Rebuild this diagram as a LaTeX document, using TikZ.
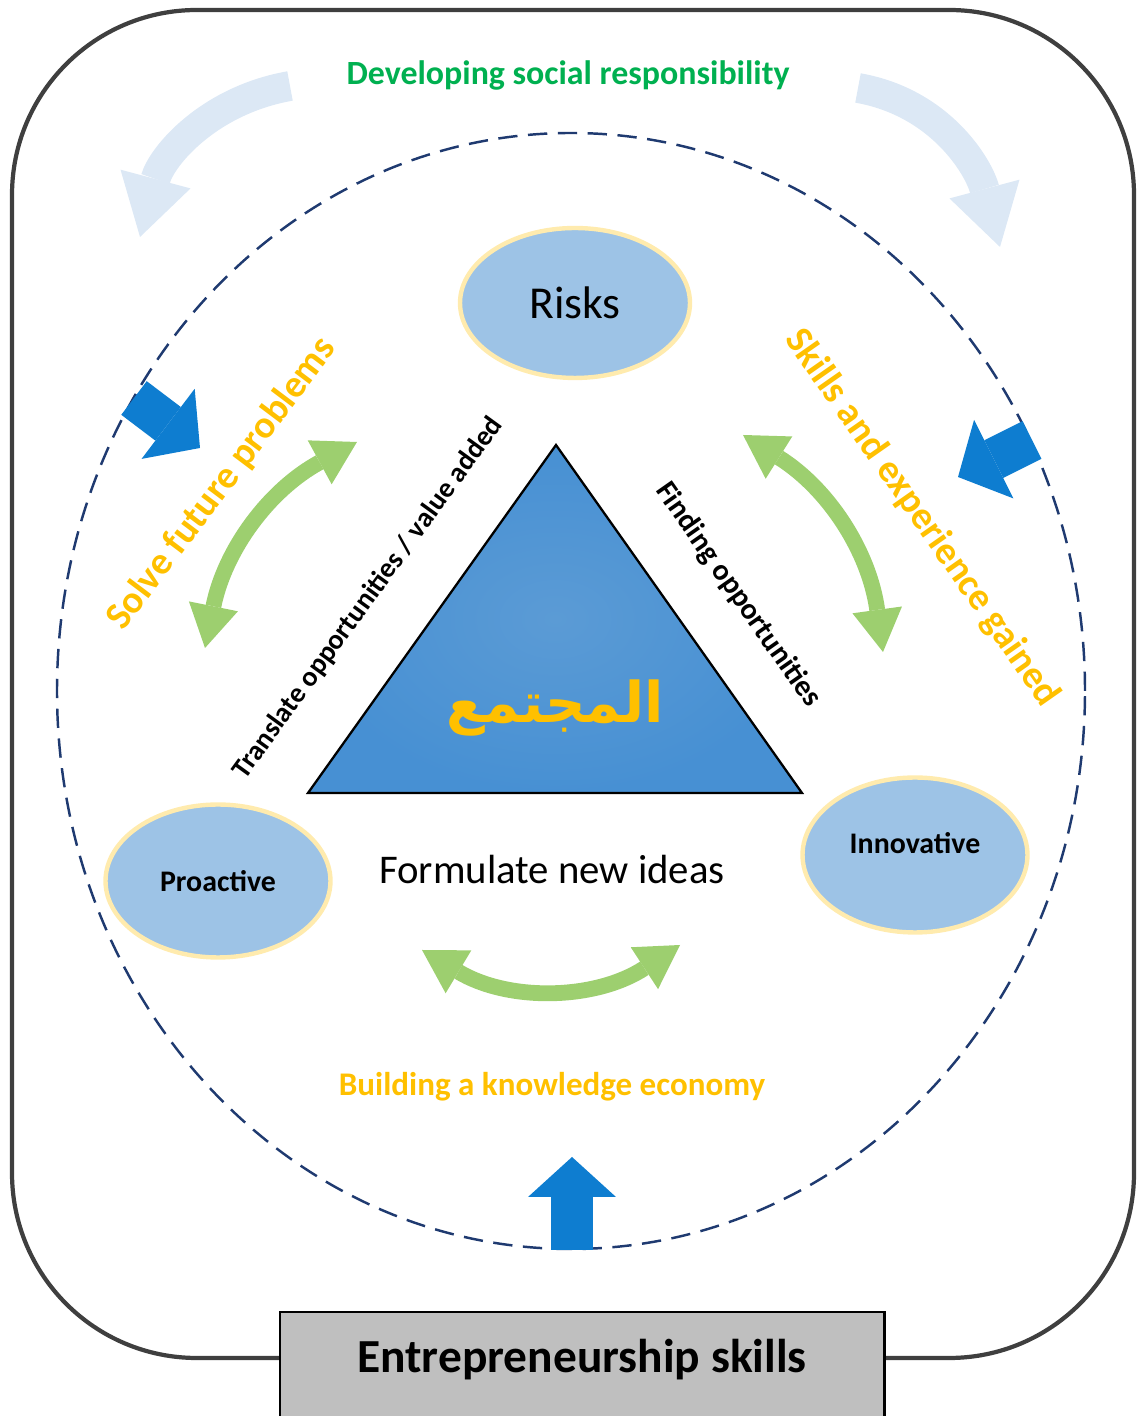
\documentclass[tikz,border=0pt]{standalone}
\usepackage{fontspec}
\setmainfont{Carlito}
\newfontfamily\arabicfont[Script=Arabic]{DejaVu Sans}
\TeXXeTstate=1
\usetikzlibrary{arrows.meta,shapes.geometric}

\definecolor{framegray}{HTML}{3F3F3F}
\definecolor{navy}{HTML}{1F3A70}
\definecolor{bubblefill}{HTML}{9DC3E6}
\definecolor{bubbleedge}{HTML}{FFEBAE}
\definecolor{trifill}{HTML}{5B9BD5}
\definecolor{triedge}{HTML}{4790D3}
\definecolor{gold}{HTML}{FFC000}
\definecolor{leaf}{HTML}{00B050}
\definecolor{lightgreen}{HTML}{9DCF6F}
\definecolor{paleblue}{HTML}{DCE8F5}
\definecolor{deepblue}{HTML}{0E7DD0}
\definecolor{boxgray}{HTML}{BFBFBF}

\newcommand{\fsz}[1]{\fontsize{#1}{#1}\selectfont}

\tikzset{
  ring/.style={draw=navy, line width=1.4pt, dash pattern=on 11pt off 6pt},
  bubble/.style={ellipse, fill=bubblefill, draw=bubbleedge, line width=2.5pt, inner sep=0pt},
  side/.style={font=\bfseries\fsz{16pt}},
  gain/.style={font=\bfseries\fsz{22pt}, text=gold},
  skillbox/.style={draw=black, line width=1.2pt, fill=boxgray, minimum width=12.1cm,
    inner ysep=0pt, text height=1.22cm, text depth=1.1cm, font=\bfseries\fsz{27pt}},
  cycarrow/.style={draw=lightgreen, line width=9pt,
    {Triangle[width=1cm,length=0.85cm,line width=0pt]}-{Triangle[width=1cm,length=0.85cm,line width=0pt]}},
  palearrow/.style={draw=paleblue, line width=17pt, -{Triangle[width=1.45cm,length=1.2cm,line width=0pt]}},
  pusharrow/.style={draw=deepblue, line width=24pt, -{Triangle[width=1.76cm,length=0.8cm,line width=0pt]}},
}

\begin{document}
\begin{tikzpicture}[x=0.02cm, y=0.02cm]
\clip (0,0) rectangle (1138,1416);

%% outer frame and base box
\draw[framegray, line width=2.4pt, rounded corners=3.7cm] (12,58) rectangle (1134,1406);
\node[skillbox, anchor=base] (skills) at (582,43) {Entrepreneurship skills};

%% dashed ring
\draw[ring] (571,725) ellipse [x radius=514, y radius=558];

%% pale arrows at the top
\coordinate (pl0) at (290,1330);
\coordinate (pl1) at (140,1179);
\coordinate (pr0) at (858,1328);
\coordinate (pr1) at (1000,1169);
\draw[palearrow] (pl0) to[out=190, in=75] (pl1);
\draw[palearrow] (pr0) to[out=-10, in=105] (pr1);

%% push arrows on the ring
\coordinate (bl0) at (134,1018);
\coordinate (bl1) at (200,968);
\coordinate (br0) at (1032,976);
\coordinate (br1) at (958,939);
\coordinate (bb0) at (572,166);
\coordinate (bb1) at (572,259);
\draw[pusharrow] (bl0) -- (bl1);
\draw[pusharrow] (br0) -- (br1);
\draw[pusharrow] (bb0) -- (bb1);

%% bubbles
\node[bubble, minimum width=4.6cm, minimum height=3cm, font=\fsz{26pt}] (risks) at (575,1113) {Risks};
\node[bubble, minimum width=4.5cm, minimum height=3.06cm, font=\bfseries\fsz{17pt}] (proactive) at (218,535) {Proactive};
\node[bubble, minimum width=4.5cm, minimum height=3.1cm,
  label={[font=\bfseries\fsz{17pt}, yshift=0.24cm]center:Innovative}] (innovative) at (915,561) {};

%% triangle
\coordinate (apex) at (556,971);
\coordinate (left) at (308,623);
\coordinate (right) at (802,623);
\draw[shading=radial, inner color=trifill, outer color=triedge, line width=1.3pt]
  (apex) -- (left) -- (right) -- cycle;
\node[font=\arabicfont\bfseries\fsz{32pt}, text=gold] (society) at (555,708) {\beginR المجتمع\endR};

%% side labels
\node[side, rotate=54] (translate) at (368,818) {Translate opportunities / value added};
\node[side, font=\bfseries\fsz{17pt}, rotate=-55] (finding) at (738,821) {Finding opportunities};
\node[gain, rotate=53] (solve) at (222,932) {Solve future problems};
\node[gain, rotate=-55] (gained) at (922,898) {Skills and experience gained};

%% texts
\node[font=\bfseries\fsz{19.3pt}, text=leaf] (social) at (568,1341) {Developing social responsibility};
\node[font=\fsz{23.2pt}] (ideas) at (552,546) {Formulate new ideas};
\node[gain, font=\bfseries\fsz{18.8pt}] (economy) at (552,329) {Building a knowledge economy};

%% green cycle arrows
\coordinate (gl0) at (205,768);
\coordinate (gl1) at (357,974);
\coordinate (gr0) at (743,981);
\coordinate (gr1) at (883,764);
\coordinate (gb0) at (422,466);
\coordinate (gb1) at (680,471);
\draw[cycarrow] (gl0) to[bend left=25] (gl1);
\draw[cycarrow] (gr0) to[bend left=25] (gr1);
\draw[cycarrow] (gb0) to[bend right=32] (gb1);
\end{tikzpicture}
\end{document}
